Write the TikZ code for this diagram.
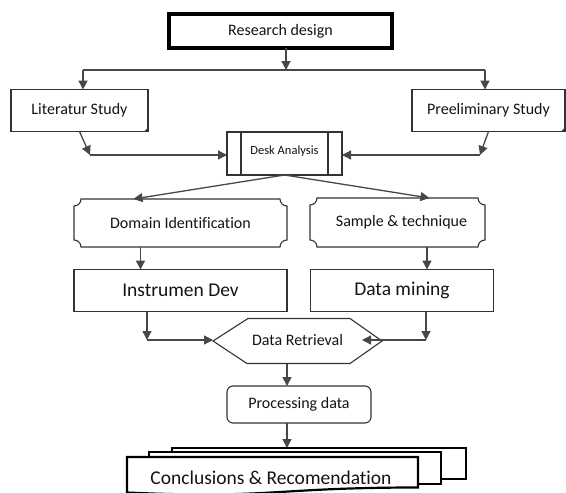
\documentclass[tikz,border=0pt]{standalone}
\usepackage{fontspec}
\setmainfont{Carlito}[Ligatures=NoCommon]
\usetikzlibrary{arrows.meta,calc}
\newcommand\myplaque[2]{%
  \draw[shapeline] ([xshift=#2]#1.north west) -- ([xshift=-#2]#1.north east)
    arc[start angle=180,end angle=270,radius=#2] -- ([yshift=#2]#1.south east)
    arc[start angle=90,end angle=180,radius=#2] -- ([xshift=#2]#1.south west)
    arc[start angle=0,end angle=90,radius=#2] -- ([yshift=-#2]#1.north west)
    arc[start angle=270,end angle=360,radius=#2] -- cycle;}
\begin{document}
\begin{tikzpicture}[x=1pt,y=-1pt,
  base/.style={inner sep=0pt, outer sep=0pt, text=black!92, font=\fontsize{16}{19}\selectfont},
  big/.style={font=\fontsize{19.5}{23}\selectfont},
  box/.style={base, draw=black!80, line width=1.1pt, fill=white},
  ghost/.style={base},
  shapeline/.style={draw=black!80, line width=1.1pt},
  stack/.style={draw=black, line width=2.2pt, fill=white},
  ln/.style={draw=black!72, line width=1.3pt},
  arr/.style={ln, -{Triangle[length=9pt,width=9pt]}}]
\fill[white] (0,0) rectangle (566,493);
\useasboundingbox (0,0) rectangle (566,493);

% nodes
\node[box, line width=4pt, draw=black, minimum width=223pt, minimum height=34pt] (rd) at (280.5,31) {Research design};
\node[box, minimum width=137pt, minimum height=42pt] (ls) at (79.5,110.5) {\raisebox{3pt}{Literatur Study}};
\fill[black!80] ([xshift=-4pt]ls.south east) -- ([yshift=4pt]ls.south east) -- (ls.south east) -- cycle;
\node[box, minimum width=153pt, minimum height=42pt] (ps) at (488.5,110.5) {\raisebox{3pt}{Preeliminary Study}};
\fill[black!80] ([xshift=-4pt]ps.south east) -- ([yshift=4pt]ps.south east) -- (ps.south east) -- cycle;
\node[box, minimum width=115pt, minimum height=43pt, font=\fontsize{12.5}{15}\selectfont] (da) at (284.5,153.5) {\raisebox{6pt}{Desk Analysis}};
\draw[shapeline] ([xshift=14pt]da.north west) -- ([xshift=14pt]da.south west);
\draw[shapeline] ([xshift=-14pt]da.north east) -- ([xshift=-14pt]da.south east);
\node[ghost, minimum width=213pt, minimum height=48pt] (di) at (180.5,223) {Domain Identification};
\myplaque{di}{7pt}
\node[ghost, minimum width=175pt, minimum height=49pt] (st) at (397.5,222.5) {\hspace*{8pt}Sample \& technique};
\myplaque{st}{7pt}
\node[box, big, minimum width=213pt, minimum height=42pt] (id) at (180.5,290.5) {Instrumen Dev};
\node[box, big, minimum width=183pt, minimum height=42pt] (dm) at (402,290.5) {Data mining};
\node[ghost, minimum width=169pt, minimum height=45pt] (dr) at (297.5,341) {\raisebox{3pt}{Data Retrieval}};
\draw[shapeline] (dr.west) -- ([xshift=35pt]dr.north west) -- ([xshift=-32pt]dr.north east) -- (dr.east)
  -- ([xshift=-32pt]dr.south east) -- ([xshift=34pt]dr.south west) -- cycle;
\node[box, rounded corners=6pt, minimum width=144pt, minimum height=37pt] (pd) at (299,404.5) {Processing data};

% stacked documents
\draw[stack] (172,448) rectangle (466,479);
\draw[stack] (149,452) rectangle (441,484);
\draw[stack] (127,457) -- (418,457) -- (418,487.5) .. controls (272.5,487.5) and (272.5,499) .. (127,492.5) -- cycle;
\node[ghost, big] (cr) at (271,478) {Conclusions \& Recomendation};
\coordinate (stacktop) at (287,448);

% connectors
\coordinate (sp) at (286,70);
\coordinate (bl) at (83,70);
\coordinate (br) at (485,70);
\draw[arr] (rd.south -| sp) -- (sp);
\draw[ln] (bl) -- (br);
\draw[arr] (bl) -- (bl |- ls.north);
\draw[arr] (br) -- (br |- ps.north);
\coordinate (lk) at (90,155);
\coordinate (rk) at (480,155);
\draw[arr] (ls.south) -- (lk);
\draw[arr] (lk) -- (lk -| da.west);
\draw[arr] (ps.south) -- (rk);
\draw[arr] (rk) -- (rk -| da.east);
\draw[arr] (da.south) -- ([xshift=-47pt]di.north);
\draw[arr] (da.south) -- ([xshift=32pt]st.north);
\draw[arr] ([xshift=-40pt]di.south) -- ([xshift=-40pt]id.north);
\coordinate (ax) at (427,0);
\draw[arr] (st.south -| ax) -- (dm.north -| ax);
\coordinate (c1) at (147,340);
\draw[arr] (id.south -| c1) -- (c1);
\draw[arr] (c1) -- (c1 -| dr.west);
\coordinate (c2) at (426,340);
\coordinate (c3) at (362,340);
\draw[arr] (dm.south -| c2) -- (c2);
\draw[arr] (c2) -- (c3);
\coordinate (cx) at (287,0);
\draw[arr] (dr.south -| cx) -- (pd.north -| cx);
\draw[arr] (pd.south -| cx) -- (stacktop);
\end{tikzpicture}
\end{document}
